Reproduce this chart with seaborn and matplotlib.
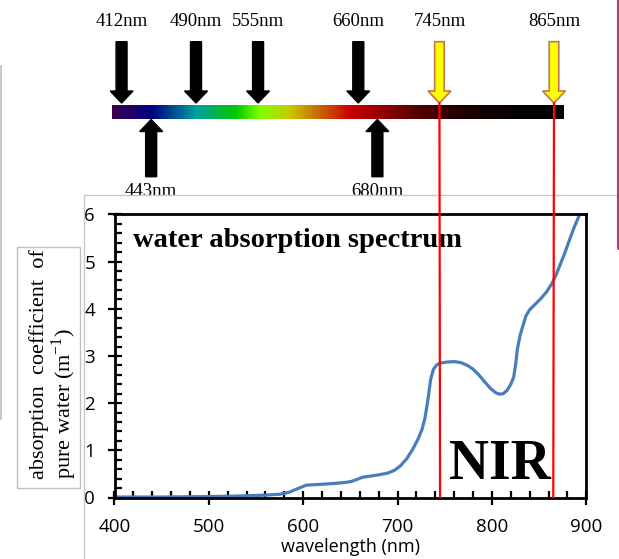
import matplotlib
matplotlib.use("Agg")
import matplotlib.pyplot as plt
import seaborn as sns
import numpy as np
import pandas as pd
from matplotlib.colors import LinearSegmentedColormap
from matplotlib.patches import Rectangle, ConnectionPatch
from matplotlib.lines import Line2D
from matplotlib.ticker import MultipleLocator

# ---------------- data ----------------
wavelength = [400, 450, 500, 530, 560, 575, 585, 592, 598, 603, 610, 620, 634, 645,
              651, 658, 663, 670, 680, 690, 697, 703, 710, 716, 722, 726, 729, 732,
              735, 738, 742, 746, 752, 760, 767, 774, 780, 786, 792, 798, 804, 808,
              812, 816, 820, 823, 825, 827, 830, 833, 836, 840, 846, 852, 858, 864,
              868, 872, 877, 882, 887, 893]
absorption = [0.01, 0.01, 0.02, 0.03, 0.05, 0.07, 0.11, 0.17, 0.22, 0.26, 0.27, 0.28,
              0.30, 0.32, 0.34, 0.39, 0.43, 0.45, 0.48, 0.52, 0.58, 0.67, 0.83, 1.02,
              1.25, 1.45, 1.68, 2.05, 2.50, 2.72, 2.82, 2.85, 2.87, 2.88, 2.86, 2.80,
              2.72, 2.60, 2.46, 2.32, 2.22, 2.19, 2.20, 2.27, 2.40, 2.55, 2.80, 3.15,
              3.45, 3.65, 3.85, 3.98, 4.10, 4.22, 4.36, 4.55, 4.72, 4.92, 5.17, 5.45,
              5.72, 6.00]

down_bands = [412, 490, 555, 660]
up_bands = [443, 680]
nir_bands = [745, 865]

spectrum_nm = [402, 443, 490, 531, 557, 588, 620, 651, 683, 725, 777, 829, 875]
spectrum_colors = ["#3a0050", "#000080", "#00a0a0", "#00c800", "#80ff00", "#c8c800",
                   "#c86400", "#c80000", "#960000", "#500000", "#1a0000", "#000000",
                   "#000000"]

x_ticks = [400, 500, 600, 700, 800, 900]
y_ticks = [0, 1, 2, 3, 4, 5, 6]

title_text = "water absorption spectrum"
nir_text = "NIR"
xlabel_text = "wavelength (nm)"
ylabel_text = "absorption  coefficient  of\npure water (m$^{\\mathregular{-1}}$)"

# ---------------- figure ----------------
sns.set_style("white")
plt.rcParams["font.family"] = ["Open Sans", "DejaVu Sans"]
plt.rcParams["mathtext.fontset"] = "custom"
plt.rcParams["mathtext.rm"] = "Liberation Serif"
plt.rcParams["text.color"] = "black"
plt.rcParams["axes.labelcolor"] = "black"
plt.rcParams["xtick.color"] = "black"
plt.rcParams["ytick.color"] = "black"

W, H = 619, 559
fig = plt.figure(figsize=(W / 100, H / 100), dpi=100)
fig.patch.set_facecolor("white")

def fx(px):
    return px / W

def fy(py):
    return (H - py) / H

# background panel lines (figure-level decorations)
fig.add_artist(Line2D([fx(84), fx(616)], [fy(194.5), fy(194.5)], color="#c8c8c8", lw=1))
fig.add_artist(Line2D([fx(84), fx(84)], [fy(194.5), fy(559)], color="#c8c8c8", lw=1))
fig.add_artist(Line2D([fx(617.5), fx(617.5)], [fy(0), fy(248)], color="#a83c78", lw=2.2))
fig.add_artist(Rectangle((fx(0), fy(420)), fx(2), fy(65) - fy(420), transform=fig.transFigure,
                         color="#c8c8c8", lw=0))

# ---------------- main axes ----------------
ax = fig.add_axes([fx(114.5), fy(497.5), fx(586.3) - fx(114.5), fy(214.4) - fy(497.5)])
df = pd.DataFrame({"wavelength": wavelength, "absorption": absorption})
sns.lineplot(data=df, x="wavelength", y="absorption", ax=ax, color="#4a7ebb", lw=2.3)
ax.set_xlim(400, 900)
ax.set_ylim(0, 6)
ax.set_xticks(x_ticks)
ax.set_yticks(y_ticks)
ax.xaxis.set_minor_locator(MultipleLocator(20))
ax.yaxis.set_minor_locator(MultipleLocator(0.2))
ax.tick_params(which="major", direction="inout", length=10, width=1.6, colors="black",
               labelsize=13.5, pad=9)
ax.tick_params(which="minor", direction="in", length=5, width=1.6, colors="black")
ax.tick_params(axis="x", which="major", pad=10)
ax.tick_params(axis="y", which="both", left=True)
ax.tick_params(axis="x", which="both", bottom=True)
for sp in ax.spines.values():
    sp.set_visible(True)
    sp.set_color("black")
    sp.set_linewidth(2.0)
ax.set_xlabel(xlabel_text, fontsize=13, labelpad=1, color="black")
ax.set_ylabel("")
ax.set_facecolor("white")

ax.text(0.04, 0.885, title_text, transform=ax.transAxes, fontsize=20.5, fontweight="bold",
        family="Liberation Serif", va="baseline", ha="left", color="black", zorder=3)
ax.text(0.709, 0.064, nir_text, transform=ax.transAxes, fontsize=40, fontweight="bold",
        family="Liberation Serif", va="baseline", ha="left", color="black", zorder=3)

# y label box
fig.add_artist(Rectangle((fx(17), fy(488)), fx(80) - fx(17), fy(247) - fy(488),
                         transform=fig.transFigure, fill=False, ec="#bfbfbf", lw=1))
fig.text(fx(54), fy(364), ylabel_text, rotation=90, ha="center", va="center", ma="left",
         fontsize=16, family="Liberation Serif", linespacing=1.0, color="black")

# ---------------- top spectrum axes ----------------
axt = fig.add_axes([fx(110.1), fy(200), fx(587.4) - fx(110.1), fy(0) - fy(200)])
axt.set_xlim(400, 900)
axt.set_ylim(200, 0)
axt.axis("off")

pos = [(v - spectrum_nm[0]) / (spectrum_nm[-1] - spectrum_nm[0]) for v in spectrum_nm]
cmap = LinearSegmentedColormap.from_list("spec", list(zip(pos, spectrum_colors)))
grad = np.linspace(0, 1, 512)[None, :]
axt.imshow(grad, cmap=cmap, aspect="auto",
           extent=[spectrum_nm[0], spectrum_nm[-1], 119.3, 106], zorder=1)
axt.set_xlim(400, 900)
axt.set_ylim(200, 0)

shaft_w = 11.5
head_w = 24
head_l = 12
for b in down_bands:
    axt.arrow(b, 41.7, 0, 103 - 41.7, width=shaft_w, head_width=head_w, head_length=head_l,
              length_includes_head=True, fc="black", ec="black", zorder=3)
    axt.text(b, 21, f"{b}nm", ha="center", va="center", fontsize=13.5,
             family="Liberation Serif", color="black")
for b in up_bands:
    axt.arrow(b, 176.7, 0, 119.5 - 176.7, width=shaft_w, head_width=head_w, head_length=head_l,
              length_includes_head=True, fc="black", ec="black", zorder=3)
    axt.text(b, 191, f"{b}nm", ha="center", va="center", fontsize=13.5,
             family="Liberation Serif", color="black", clip_on=False)
for b in nir_bands:
    axt.arrow(b, 41.7, 0, 103 - 41.7, width=shaft_w - 1.5, head_width=head_w, head_length=head_l,
              length_includes_head=True, fc="#ffff00", ec="#c0784a", lw=1.2, zorder=3)
    axt.text(b, 21, f"{b}nm", ha="center", va="center", fontsize=13.5,
             family="Liberation Serif", color="black")
    con = ConnectionPatch(xyA=(b, 103), coordsA=axt.transData, xyB=(b, 0),
                          coordsB=ax.transData, color="#ff0000", lw=1.6, zorder=5)
    fig.add_artist(con)

fig.savefig("out.png", dpi=100)
